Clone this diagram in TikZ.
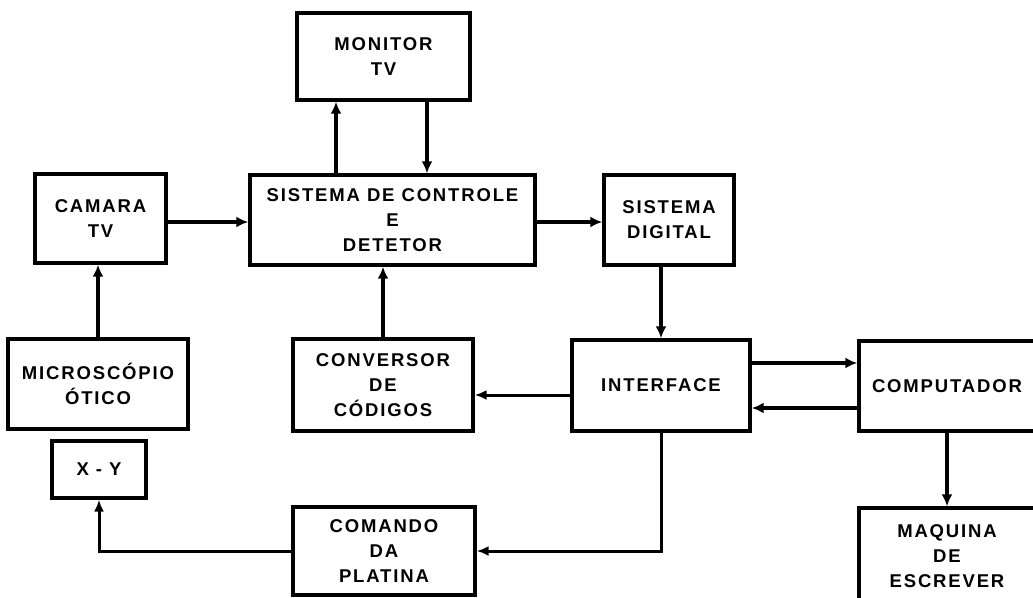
\documentclass[tikz,border=0pt]{standalone}
\usepackage{fontspec}
\setmainfont{Liberation Sans}[LetterSpace=10]
\usetikzlibrary{arrows.meta,calc}
\tikzset{
  blk/.style={draw, line width=3.4pt, inner sep=0pt, align=center,
    font=\fontsize{18.5}{25}\selectfont\bfseries},
  arr/.style={line width=4pt, -{Latex[length=12pt,width=11pt]}},
  thin arr/.style={line width=3pt, -{Latex[length=12pt,width=10pt]}}
}
\begin{document}
\begin{tikzpicture}[x=1pt,y=-1pt]
\clip (0,0) rectangle (1033,597);
\useasboundingbox (0,0) rectangle (1033,597);
\node[blk, minimum width=173pt, minimum height=87pt] (mon) at (383.5,56.5) {MONITOR\\TV};
\node[blk, minimum width=131pt, minimum height=89pt] (cam) at (100.5,218.5) {CAMARA\\TV};
\node[blk, minimum width=285pt, minimum height=90pt] (sdc) at (392.5,220) {SISTEMA DE CONTROLE\\E\\DETETOR};
\node[blk, minimum width=130pt, minimum height=90pt] (sdig) at (669,220) {SISTEMA\\DIGITAL};
\node[blk, minimum width=180pt, minimum height=90pt] (mic) at (98,384) {MICROSCÓPIO\\ÓTICO};
\node[blk, minimum width=180pt, minimum height=92pt] (conv) at (383,385) {CONVERSOR\\DE\\CÓDIGOS};
\node[blk, minimum width=178pt, minimum height=91pt] (intf) at (661,385.5) {INTERFACE};
\node[blk, minimum width=176pt, minimum height=90pt] (comp) at (947,386) {COMPUTADOR};
\node[blk, minimum width=94pt, minimum height=57pt] (xy) at (99,469.5) {X - Y};
\node[blk, minimum width=182pt, minimum height=88pt] (cmd) at (384,551) {COMANDO\\DA\\PLATINA};
\node[blk, minimum width=176pt, minimum height=96pt] (maq) at (947,556) {MAQUINA\\DE\\ESCREVER};
\coordinate (m1) at (336,0);
\coordinate (m2) at (427,0);
\coordinate (h1) at (0,222);
\coordinate (h2) at (0,395);
\coordinate (h3) at (0,363);
\coordinate (h4) at (0,408);
\draw[arr] (sdc.north -| m1) -- (mon.south -| m1);
\draw[arr] (mon.south -| m2) -- (sdc.north -| m2);
\draw[arr] (cam.east |- h1) -- (sdc.west |- h1);
\draw[arr] (sdc.east |- h1) -- (sdig.west |- h1);
\draw[arr] (mic.north) -- (cam.south -| mic.north);
\draw[arr] (conv.north) -- (sdc.south -| conv.north);
\draw[arr] (sdig.south -| intf.north) -- (intf.north);
\draw[thin arr] (intf.west |- h2) -- (conv.east |- h2);
\draw[arr] (intf.east |- h3) -- (comp.west |- h3);
\draw[arr] (comp.west |- h4) -- (intf.east |- h4);
\draw[arr] (comp.south) -- (maq.north);
\draw[thin arr] (intf.south) |- (cmd.east);
\draw[thin arr] (cmd.west) -| (xy.south);
\end{tikzpicture}
\end{document}
